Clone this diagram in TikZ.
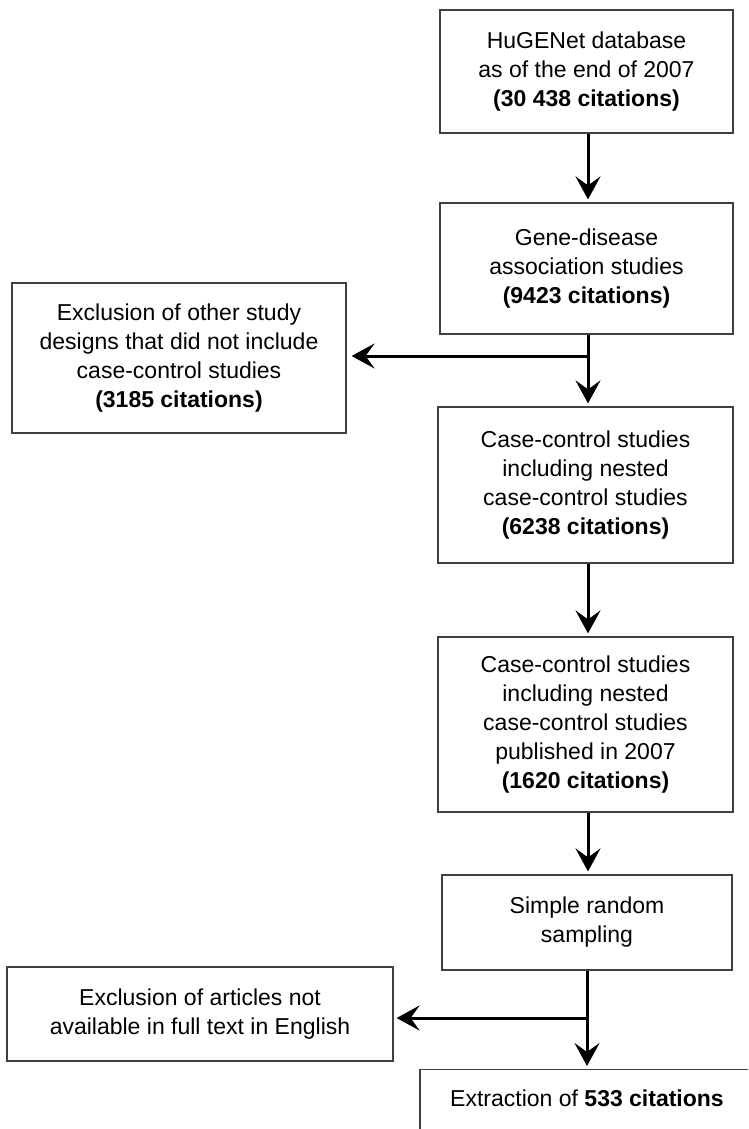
\documentclass[tikz,border=0pt]{standalone}
\usepackage{fontspec}
\setmainfont{Liberation Sans}
\usetikzlibrary{arrows.meta,positioning,calc}

\tikzset{
    stepbox/.style={draw=black!75, line width=1.2pt, align=center, inner sep=0pt,
        font=\fontsize{23}{29}\selectfont},
    flow/.style={line width=3pt, -{Stealth[length=23pt, width=25pt, inset=9pt]}, shorten >=3pt}
}

\begin{document}
\begin{tikzpicture}[x=1pt, y=-1pt]
    \useasboundingbox (0,0) rectangle (748,1129);
    \clip (0,0) rectangle (748,1129);

    % Main column
    \node[stepbox, minimum width=293, minimum height=123] (hugenet) at (586.5,71.5)
        {HuGENet database\\as of the end of 2007\\\textbf{(30 438 citations)}};
    \node[stepbox, minimum width=293, minimum height=131] (genedis) at (586.5,268.5)
        {Gene-disease\\association studies\\\textbf{(9423 citations)}};
    \node[stepbox, minimum width=295, minimum height=156] (casectrl) at (585.5,485)
        {Case-control studies\\including nested\\case-control studies\\\textbf{(6238 citations)}};
    \node[stepbox, minimum width=295, minimum height=175] (pub2007) at (585.5,724.5)
        {Case-control studies\\including nested\\case-control studies\\published in 2007\\\textbf{(1620 citations)}};
    \node[stepbox, minimum width=290, minimum height=95] (sampling) at (587,922.5)
        {Simple random\\sampling};

    % Last box runs off the page
    \node[stepbox, anchor=north, minimum width=334, text height=16pt, text depth=44pt,
        inner ysep=21pt] (extract) at (587,1069)
        {Extraction of \textbf{533 citations}};

    % Exclusions
    \node[stepbox, minimum width=334, minimum height=150] (excldesign) at (179,358)
        {Exclusion of other study\\designs that did not include\\case-control studies\\\textbf{(3185 citations)}};
    \node[stepbox, minimum width=386, minimum height=94] (excltext) at (200,1014)
        {Exclusion of articles not\\available in full text in English};

    % Split points
    \coordinate (split1) at (588,356);
    \coordinate (split2) at (587,1018);

    % Arrows
    \draw[flow] (hugenet.south -| split1) -- (genedis.north -| split1);
    \draw[line width=3pt] (genedis.south -| split1) -- (split1);
    \draw[flow] (split1) -- (casectrl.north -| split1);
    \draw[flow, shorten >=5pt] (split1) -- (excldesign.east |- split1);
    \draw[flow] (casectrl.south -| split1) -- (pub2007.north -| split1);
    \draw[flow] (pub2007.south -| split1) -- (sampling.north -| split1);
    \draw[line width=3pt] (sampling.south -| split2) -- (split2);
    \draw[flow] (split2) -- (extract.north -| split2);
    \draw[flow] (split2) -- (excltext.east |- split2);

\end{tikzpicture}
\end{document}
